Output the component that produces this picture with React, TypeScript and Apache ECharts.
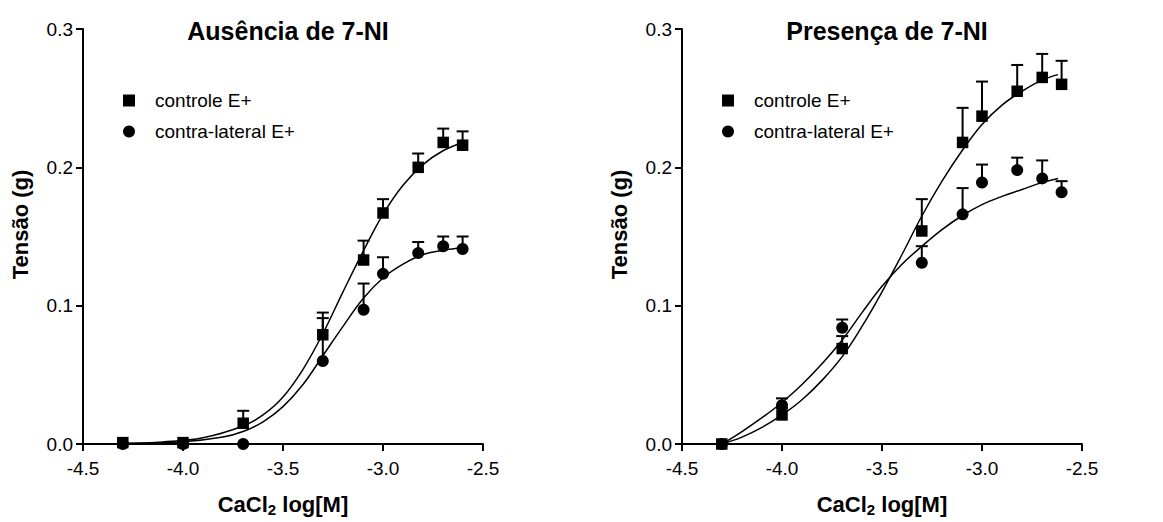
import React, { useEffect, useRef } from "react";
import * as echarts from "echarts";

// ---------- data ----------
const doseLog = [-4.301, -4.0, -3.699, -3.301, -3.097, -3.0, -2.824, -2.699, -2.602];

// Left panel: Ausência de 7-NI
const leftCtrlMean = [0.001, 0.001, 0.015, 0.079, 0.133, 0.167, 0.2, 0.218, 0.216];
const leftCtrlSem = [0, 0, 0.009, 0.016, 0.014, 0.01, 0.01, 0.01, 0.01];
const leftContraMean = [0.0, 0.0, 0.0, 0.06, 0.097, 0.123, 0.138, 0.143, 0.141];
const leftContraSem = [0, 0, 0, 0.031, 0.019, 0.012, 0.008, 0.007, 0.009];

// Right panel: Presença de 7-NI
const rightCtrlMean = [0.0, 0.021, 0.069, 0.154, 0.218, 0.237, 0.255, 0.265, 0.26];
const rightCtrlSem = [0, 0.005, 0.009, 0.023, 0.025, 0.025, 0.019, 0.017, 0.017];
const rightContraMean = [0.0, 0.028, 0.084, 0.131, 0.166, 0.189, 0.198, 0.192, 0.182];
const rightContraSem = [0, 0.005, 0.006, 0.012, 0.019, 0.013, 0.009, 0.013, 0.008];

// Fitted curves
const leftCtrlFitX = [-4.3, -4.1, -3.9, -3.7, -3.6, -3.5, -3.4, -3.3, -3.2, -3.1, -3.0, -2.9, -2.8, -2.7, -2.6];
const leftCtrlFitY = [0.0005, 0.0015, 0.0045, 0.013, 0.021, 0.034, 0.054, 0.08, 0.11, 0.139, 0.166, 0.187, 0.202, 0.212, 0.218];
const leftContraFitX = [-4.3, -4.0, -3.8, -3.7, -3.6, -3.5, -3.4, -3.3, -3.2, -3.1, -3.0, -2.9, -2.8, -2.7, -2.6];
const leftContraFitY = [0.0003, 0.0016, 0.005, 0.009, 0.016, 0.027, 0.043, 0.064, 0.085, 0.105, 0.12, 0.13, 0.137, 0.14, 0.142];
const rightCtrlFitX = [-4.3, -4.2, -4.1, -4.0, -3.9, -3.8, -3.7, -3.6, -3.5, -3.4, -3.3, -3.2, -3.1, -3.0, -2.9, -2.8, -2.7, -2.62];
const rightCtrlFitY = [0.0, 0.005, 0.012, 0.021, 0.032, 0.046, 0.063, 0.085, 0.11, 0.137, 0.165, 0.19, 0.212, 0.231, 0.245, 0.255, 0.263, 0.267];
const rightContraFitX = [-4.3, -4.2, -4.1, -4.0, -3.9, -3.8, -3.7, -3.6, -3.5, -3.4, -3.3, -3.2, -3.1, -3.0, -2.9, -2.8, -2.7, -2.62];
const rightContraFitY = [0.0, 0.009, 0.019, 0.03, 0.043, 0.058, 0.075, 0.095, 0.114, 0.13, 0.143, 0.155, 0.165, 0.173, 0.179, 0.184, 0.189, 0.192];

const titles = ["Ausência de 7-NI", "Presença de 7-NI"];
const seriesNames = ["controle E+", "contra-lateral E+"];
const yTicks = [0, 0.1, 0.2, 0.3];
const xTicks = [-4.5, -4.0, -3.5, -3.0, -2.5];

const FONT = "'Liberation Sans', Arial, Helvetica, sans-serif";

function pairs(xs: number[], ys: number[]) {
  return xs.map((x, i) => [x, ys[i]]);
}
function triples(xs: number[], ys: number[], es: number[]) {
  return xs.map((x, i) => [x, ys[i], es[i]]);
}

function errorBar(params: any, api: any) {
  const x = api.value(0);
  const y = api.value(1);
  const e = api.value(2);
  if (!e) return { type: "group", children: [] };
  const p0 = api.coord([x, y]);
  const p1 = api.coord([x, y + e]);
  return {
    type: "group",
    children: [
      { type: "line", shape: { x1: p0[0], y1: p0[1], x2: p1[0], y2: p1[1] }, style: { stroke: "#000", lineWidth: 2 } },
      { type: "line", shape: { x1: p1[0] - 6, y1: p1[1], x2: p1[0] + 6, y2: p1[1] }, style: { stroke: "#000", lineWidth: 2 } },
    ],
  };
}

export default function App() {
  const ref = useRef<HTMLDivElement>(null);
  useEffect(() => {
    if (!ref.current) return;
    const chart = echarts.init(ref.current, undefined, { renderer: "svg" });
    const grids = [
      { left: 83, top: 29, width: 400, height: 420 },
      { left: 682, top: 29, width: 400, height: 420 },
    ];
    const panels = [
      { ctrlM: leftCtrlMean, ctrlS: leftCtrlSem, conM: leftContraMean, conS: leftContraSem,
        fit1: pairs(leftCtrlFitX, leftCtrlFitY), fit2: pairs(leftContraFitX, leftContraFitY) },
      { ctrlM: rightCtrlMean, ctrlS: rightCtrlSem, conM: rightContraMean, conS: rightContraSem,
        fit1: pairs(rightCtrlFitX, rightCtrlFitY), fit2: pairs(rightContraFitX, rightContraFitY) },
    ];
    const xAxis = grids.map((_, i) => ({
      type: "value",
      gridIndex: i,
      min: xTicks[0],
      max: xTicks[xTicks.length - 1],
      interval: 0.5,
      name: "{a|CaCl}{s|2}{a| log[M]}",
      nameLocation: "middle",
      nameGap: 47,
      nameTextStyle: {
        rich: {
          a: { fontFamily: FONT, fontWeight: "bold", fontSize: 22, color: "#000" },
          s: { fontFamily: FONT, fontWeight: "bold", fontSize: 15, color: "#000", padding: [11, 0, 0, 0] },
        },
      },
      axisLine: { show: true, onZero: false, lineStyle: { color: "#000", width: 2 } },
      axisTick: { show: true, inside: false, length: 7, lineStyle: { color: "#000", width: 2 } },
      axisLabel: { color: "#000", fontFamily: FONT, fontSize: 19, margin: 15, formatter: (v: number) => v.toFixed(1) },
      splitLine: { show: false },
    }));
    const yAxis = grids.map((_, i) => ({
      type: "value",
      gridIndex: i,
      min: yTicks[0],
      max: yTicks[yTicks.length - 1],
      interval: 0.1,
      name: "Tensão (g)",
      nameLocation: "middle",
      nameGap: 52,
      nameRotate: 90,
      nameTextStyle: { fontFamily: FONT, fontWeight: "bold", fontSize: 22, color: "#000", padding: [0, 0, 0, 24] },
      axisLine: { show: true, onZero: false, lineStyle: { color: "#000", width: 2 } },
      axisTick: { show: true, inside: false, length: 7, lineStyle: { color: "#000", width: 2 } },
      axisLabel: { color: "#000", fontFamily: FONT, fontSize: 19, margin: 10, formatter: (v: number) => v.toFixed(1) },
      splitLine: { show: false },
    }));
    const series: any[] = [];
    panels.forEach((p, i) => {
      series.push(
        { type: "line", name: "fit1-" + i, xAxisIndex: i, yAxisIndex: i, data: p.fit1, smooth: 0.4, showSymbol: false, symbol: "none", lineStyle: { color: "#000", width: 1.5 }, silent: true, z: 1 },
        { type: "line", name: "fit2-" + i, xAxisIndex: i, yAxisIndex: i, data: p.fit2, smooth: 0.4, showSymbol: false, symbol: "none", lineStyle: { color: "#000", width: 1.5 }, silent: true, z: 1 },
        { type: "custom", name: "err1-" + i, xAxisIndex: i, yAxisIndex: i, renderItem: errorBar, data: triples(doseLog, p.ctrlM, p.ctrlS), encode: { x: 0, y: 1 }, silent: true, z: 2 },
        { type: "custom", name: "err2-" + i, xAxisIndex: i, yAxisIndex: i, renderItem: errorBar, data: triples(doseLog, p.conM, p.conS), encode: { x: 0, y: 1 }, silent: true, z: 2 },
        { type: "scatter", name: seriesNames[1], xAxisIndex: i, yAxisIndex: i, data: pairs(doseLog, p.conM), symbol: "circle", symbolSize: 12, itemStyle: { color: "#000", opacity: 1 }, z: 3 },
        { type: "scatter", name: seriesNames[0], xAxisIndex: i, yAxisIndex: i, data: pairs(doseLog, p.ctrlM), symbol: "rect", symbolSize: 11.5, itemStyle: { color: "#000", opacity: 1 }, z: 3 },
      );
    });
    const legends = grids.map((g) => ({
      left: g.left + 35,
      top: 86,
      orient: "vertical",
      itemWidth: 12,
      itemHeight: 12,
      itemGap: 12,
      selectedMode: false,
      itemStyle: { color: "#000", opacity: 1 },
      textStyle: { fontFamily: FONT, fontSize: 19, color: "#000", padding: [0, 0, 0, 15] },
      data: [
        { name: seriesNames[0], icon: "rect" },
        { name: seriesNames[1], icon: "circle" },
      ],
    }));
    chart.setOption({
      animation: false,
      backgroundColor: "#fff",
      title: grids.map((g, i) => ({
        text: titles[i],
        left: g.left + g.width / 2,
        top: 13,
        textAlign: "center",
        textStyle: { fontFamily: FONT, fontWeight: "bold", fontSize: 25, color: "#000" },
      })),
      grid: grids,
      xAxis,
      yAxis,
      legend: legends,
      series,
    });
    return () => chart.dispose();
  }, []);
  return <div ref={ref} style={{ position: "absolute", left: 0, top: 0, width: 1163, height: 522 }} />;
}
